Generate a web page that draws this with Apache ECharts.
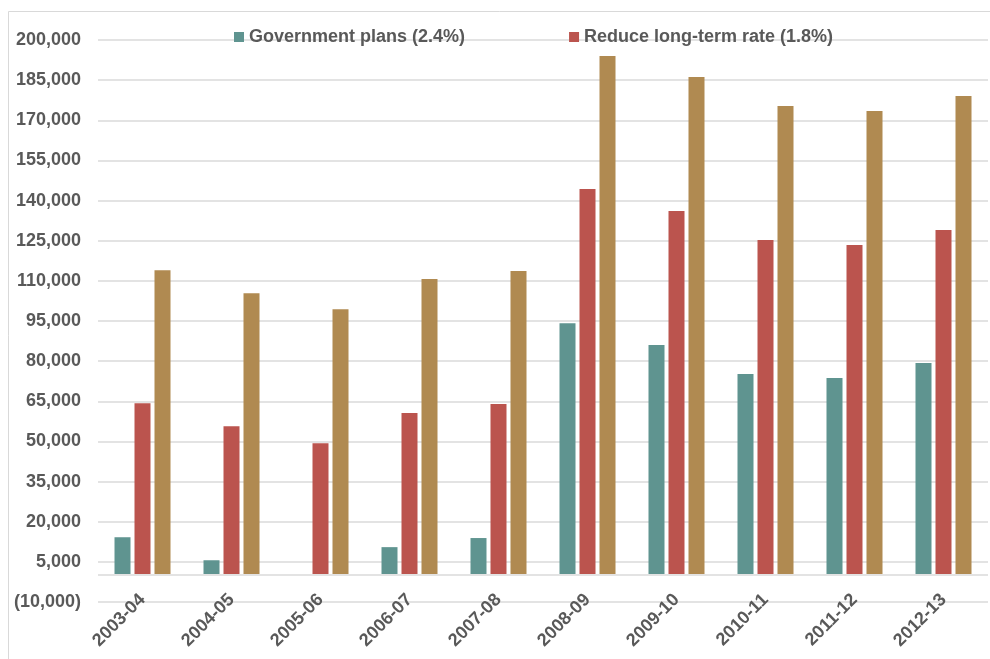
<!DOCTYPE html>
<html>
<head>
<meta charset="utf-8">
<script src="https://cdn.jsdelivr.net/npm/echarts@6/dist/echarts.min.js"></script>
<style>
  html, body {margin: 0; padding: 0; background: #fff;}
  #chart {width: 990px; height: 659px;}
</style>
</head>
<body>
<div id="chart"></div>
<script>
const years = ['2003-04', '2004-05', '2005-06', '2006-07', '2007-08', '2008-09', '2009-10', '2010-11', '2011-12', '2012-13'];
const govPlans = [14200, 5600, 0, 10500, 13900, 94200, 86000, 75200, 73700, 79300];
const reduceRate = [64300, 55700, 49300, 60600, 64000, 144300, 136100, 125300, 123400, 129000];
const thirdSeries = [114000, 105400, 99400, 110700, 113700, 194000, 186200, 175300, 173500, 179100];
const seriesNames = ['Government plans (2.4%)', 'Reduce long-term rate (1.8%)', 'Current'];
const colors = ['#5f9490', '#bb544e', '#b08a51'];

const fmt = v => {
  const s = Math.abs(v).toLocaleString('en-US');
  return v < 0 ? '(' + s + ')' : s;
};

const chart = echarts.init(document.getElementById('chart'));
const textColor = '#595959';
const font = 'Liberation Sans, Arial, sans-serif';

chart.setOption({
  animation: false,
  backgroundColor: '#fff',
  textStyle: {fontFamily: font},
  graphic: [{
    type: 'rect',
    shape: {x: 8.5, y: 11.5, width: 1000, height: 700},
    style: {fill: 'none', stroke: '#d9d9d9', lineWidth: 1},
    silent: true
  }],
  legend: {
    data: seriesNames.slice(0, 2),
    left: 229,
    top: 23,
    itemWidth: 10,
    itemHeight: 10,
    itemGap: 104,
    icon: 'rect',
    textStyle: {color: textColor, fontSize: 18, fontWeight: 'bold', fontFamily: font}
  },
  grid: {left: 98, right: 2, top: 40, bottom: 57, containLabel: false},
  xAxis: {
    type: 'category',
    data: years,
    axisLine: {show: false, onZero: false},
    axisTick: {show: false},
    axisLabel: {
      rotate: 45,
      margin: -5,
      color: textColor,
      fontSize: 18,
      fontWeight: 'bold',
      fontFamily: font,
      interval: 0
    }
  },
  yAxis: {
    type: 'value',
    min: -10000,
    max: 200000,
    interval: 15000,
    axisLine: {show: false},
    axisTick: {show: false},
    splitLine: {lineStyle: {color: '#e3e3e3', width: 2}},
    axisLabel: {
      margin: 17,
      color: textColor,
      fontSize: 18,
      fontWeight: 'bold',
      fontFamily: font,
      formatter: fmt
    }
  },
  series: [
    {
      name: seriesNames[0], type: 'bar', data: govPlans, barWidth: 16, barGap: '25%',
      itemStyle: {color: colors[0]},
      markLine: {
        silent: true, symbol: 'none', label: {show: false},
        lineStyle: {color: '#e3e3e3', width: 2, type: 'solid'},
        data: [{yAxis: 0}]
      },
      z: 3
    },
    {name: seriesNames[1], type: 'bar', data: reduceRate, barWidth: 16, barGap: '25%', itemStyle: {color: colors[1]}, z: 3},
    {name: seriesNames[2], type: 'bar', data: thirdSeries, barWidth: 16, barGap: '25%', itemStyle: {color: colors[2]}, z: 3}
  ]
});
</script>
</body>
</html>
